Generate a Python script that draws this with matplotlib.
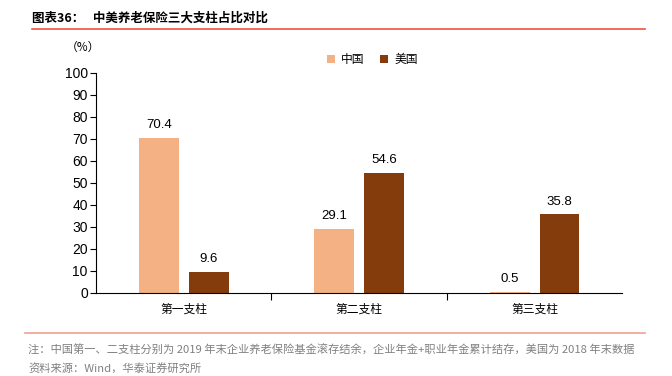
import matplotlib
matplotlib.use("Agg")
import matplotlib.pyplot as plt
import numpy as np

plt.rcParams['font.family'] = ['Noto Sans CJK SC', 'DejaVu Sans']

categories = ["第一支柱", "第二支柱", "第三支柱"]
china = [70.4, 29.1, 0.5]
usa = [9.6, 54.6, 35.8]
series_names = ["中国", "美国"]
yticks = list(range(0, 101, 10))

fig = plt.figure(figsize=(6.72, 3.76), dpi=100)
ax = fig.add_axes([0.143, 0.221, 0.783, 0.585])

x = np.arange(len(categories))
w = 0.227
off = 0.142
b1 = ax.bar(x - off, china, w, color="#F4B183", label=series_names[0])
b2 = ax.bar(x + off, usa, w, color="#843C0C", label=series_names[1])
for bars, vals in ((b1, china), (b2, usa)):
    for b, v in zip(bars, vals):
        ax.text(b.get_x() + b.get_width() / 2, v + 3, f"{v:.1f}", ha="center", va="bottom",
                fontsize=9.5, family=["Liberation Sans", "DejaVu Sans"])

ax.set_xlim(-0.5, 2.5)
ax.set_ylim(0, 100)
ax.set_yticks(yticks)
ax.set_yticklabels([str(t) for t in yticks], family=["Liberation Sans", "DejaVu Sans"], fontsize=10)
ax.set_xticks([0.5, 1.5])
ax.set_xticklabels([])
ax.tick_params(axis="x", direction="out", length=5, width=0.8)
ax.tick_params(axis="y", direction="out", length=4, width=0.8, pad=2)
for i, c in enumerate(categories):
    ax.text(i, -4.5, c, ha="center", va="top", fontsize=8.5)
for s in ("top", "right"):
    ax.spines[s].set_visible(False)
ax.spines["left"].set_linewidth(0.8)
ax.spines["bottom"].set_linewidth(0.8)
fig.text(83 / 672, 1 - 47 / 376, "（%）", ha="center", va="center", fontsize=8.5)

ax.legend(loc="upper center", bbox_to_anchor=(0.525, 1.14), ncol=2, frameon=False,
          fontsize=8.5, handlelength=0.7, handleheight=0.7, columnspacing=1.3, handletextpad=0.5)

fig.text(32 / 672, 1 - 18 / 376, "图表36：   中美养老保险三大支柱占比对比", ha="left", va="center",
         fontsize=9, fontweight="bold")
fig.add_artist(plt.Line2D([32 / 672, 645 / 672], [1 - 29 / 376, 1 - 29 / 376], color="#F0533F", lw=1.2))
fig.add_artist(plt.Line2D([25 / 672, 645 / 672], [1 - 333 / 376, 1 - 333 / 376], color="#F0A090", lw=1.2))
fig.text(28 / 672, 1 - 350 / 376,
         "注：中国第一、二支柱分别为 2019 年末企业养老保险基金滚存结余，企业年金+职业年金累计结存，美国为 2018 年末数据",
         ha="left", va="center", fontsize=8.1, color="#808080")
fig.text(28 / 672, 1 - 369 / 376, "资料来源：Wind，华泰证券研究所", ha="left", va="center",
         fontsize=8.1, color="#808080")

fig.savefig("out.png", dpi=100)
